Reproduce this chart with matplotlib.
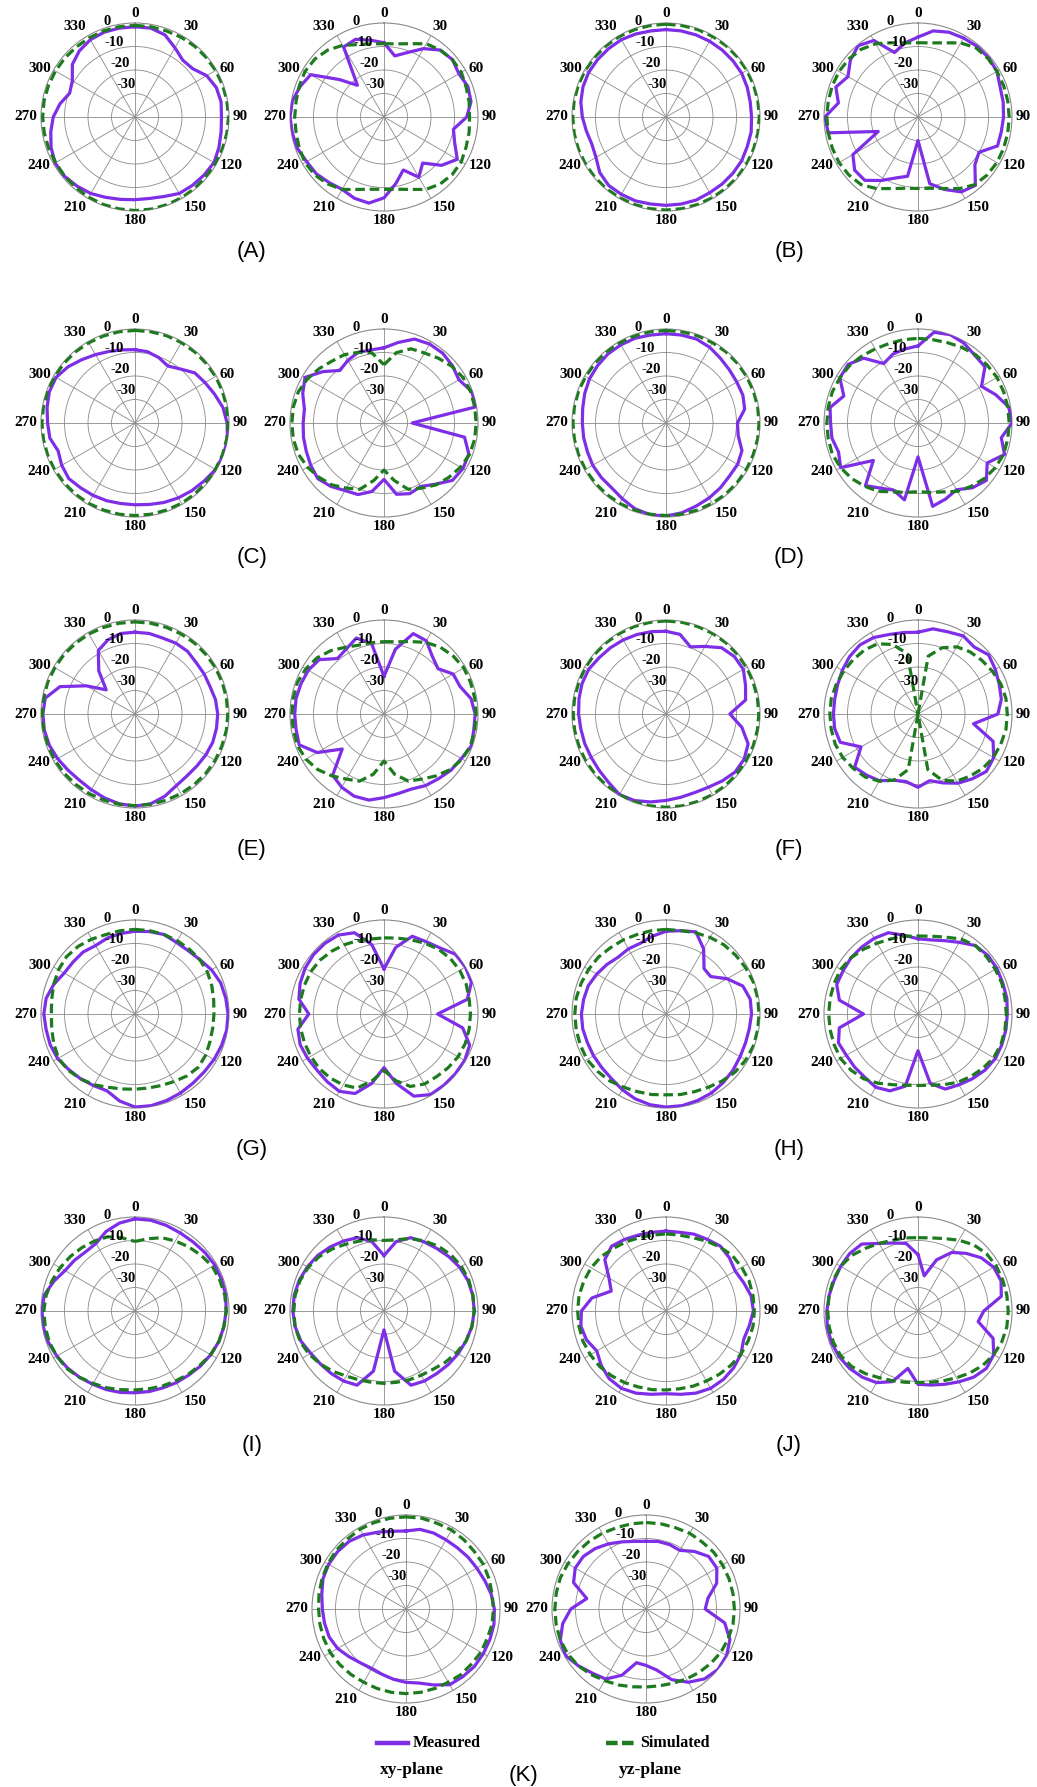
import numpy as np
import matplotlib
matplotlib.use("Agg")
import matplotlib.pyplot as plt
from matplotlib.lines import Line2D

W, H, DPI = 1037, 1787, 100

# ---------------- data (dB, angles 0..350 step 10, clockwise from top) ----------------
ANGLES_DEG = list(range(0, 360, 10))
ANGLE_LABELS = ['0', '30', '60', '90', '120', '150', '180', '210', '240', '270', '300', '330']
RING_TICKS = [-30, -20, -10]
RING_LABELS = ['0', '-10', '-20', '-30']
PANEL_NAMES = ['A', 'B', 'C', 'D', 'E', 'F', 'G', 'H', 'I', 'J', 'K']

A_xy_meas = [-1.6,-1.6,-2.8,-6,-8.4,-8,-4.8,-3.2,-2.8,-3.2,-2.8,-2,-1.2,-1.6,-2,-2.4,-4,-4.8,-4.8,-4.4,-3.6,-2.4,-1.6,-0.8,-0.8,-2,-3.6,-5.2,-7.6,-10.4,-9.2,-5.2,-3.2,-2,-1.6,-1.6]
A_xy_sim = [-1,-1,-1,-0.8,-0.6,-0.5,-0.4,-0.3,-0.3,-0.2,-0.3,-0.4,-0.5,-0.5,-0.4,-0.3,-0.3,-0.2,-0.2,-0.3,-0.4,-0.6,-0.8,-0.9,-1,-0.9,-0.8,-0.7,-0.7,-0.8,-0.9,-1,-1.1,-1.1,-1,-1]
A_yz_meas = [-8.4,-13.6,-10.8,-6.4,-2.8,-2,-3.2,-2,-2.4,-4.8,-10,-8,-4,-8,-14.4,-10.4,-16,-11.2,-5.6,-2.8,-3.2,-4.4,-3.6,-2.4,-2,-0.8,-0.4,0,-0.4,-2,-4,-15.2,-22.4,-5.6,-4.8,-6.8]
A_yz_sim = [-8.8,-8.4,-6.8,-4,-2.8,-2,-2,-2.8,-3.2,-3.6,-3.2,-2.8,-2,-2,-2.8,-4.4,-7.2,-8.8,-9.2,-8.8,-7.2,-4.4,-2.8,-1.6,-1.2,-1.6,-2,-2,-2,-1.6,-1.2,-1.6,-2.8,-4.8,-7.2,-8.4]

B_xy_meas = [-2.8,-2.8,-2.8,-2.8,-2.8,-2.8,-2.8,-3.2,-3.6,-3.6,-3.2,-3.2,-2.8,-2.8,-2.8,-2.8,-2.4,-2.4,-2.4,-2.4,-2,-2,-2,-3.2,-5.6,-6.4,-5.6,-4.4,-3.2,-2.4,-2,-2,-2,-2,-2.4,-2.8]
B_xy_sim = [-0.5,-0.5,-0.4,-0.4,-0.3,-0.3,-0.3,-0.3,-0.3,-0.3,-0.3,-0.3,-0.3,-0.3,-0.4,-0.4,-0.4,-0.4,-0.4,-0.4,-0.4,-0.4,-0.3,-0.3,-0.3,-0.3,-0.3,-0.3,-0.3,-0.3,-0.3,-0.4,-0.4,-0.4,-0.5,-0.5]
B_yz_meas = [-6,-2.8,-1.6,-1.2,-0.8,-0.8,-1.2,-2.8,-3.2,-3.6,-4,-4,-10,-8.4,-2,-3.2,-7.2,-11.2,-30,-14.4,-12.4,-8.8,-4.8,-4.8,-8,-22,-1.2,-0.4,-5.6,-2.8,-5.6,-2.4,-0.4,-2.4,-10.8,-8]
B_yz_sim = [-8.4,-8,-6.4,-3.6,-1.6,-1.2,-1.2,-1.2,-1.2,-1.2,-1.2,-1.2,-1.2,-1.6,-2.4,-4.8,-7.6,-9.2,-9.6,-9.2,-7.6,-4.8,-2.4,-1.6,-1.2,-1.2,-1.2,-1.2,-1.2,-1.2,-1.2,-1.6,-2.4,-4,-6.4,-8]

C_xy_meas = [-8.8,-9.2,-10.4,-12,-10,-6.8,-5.6,-4,-2,-0.8,0,0,-0.4,-1.6,-2.4,-3.2,-4,-4.8,-5.2,-5.2,-4.8,-4.4,-4,-3.2,-4,-5.2,-3.2,-2.8,-2,-1.2,-1.2,-2.8,-4.8,-6.4,-7.6,-8.4]
C_xy_sim = [-0.6,-0.6,-0.5,-0.5,-0.5,-0.5,-0.4,-0.4,-0.4,-0.4,-0.4,-0.4,-0.5,-0.5,-0.5,-0.5,-0.6,-0.6,-0.6,-0.6,-0.6,-0.5,-0.5,-0.5,-0.4,-0.4,-0.4,-0.4,-0.4,-0.4,-0.5,-0.5,-0.5,-0.6,-0.6,-0.6]
C_yz_meas = [-8,-5.2,-2,-1.2,-1.2,-2,-3.2,-0.4,0,-28,-5.2,-1.6,-1.2,-2,-6,-8.8,-8,-9.2,-16,-10.4,-7.6,-6.8,-4.8,-3.2,-4,-4.8,-5.2,-5.6,-5.6,-3.2,-1.2,-6,-10.8,-9.2,-8,-8.4]
C_yz_sim = [-15.2,-9.6,-6.4,-5.6,-4,-2.4,-1.2,-0.8,-0.8,-0.8,-0.8,-1.2,-2.4,-4,-5.6,-8,-10,-15.2,-20,-15.2,-10,-8,-5.6,-4,-2.4,-1.2,-0.8,-0.8,-0.8,-1.2,-2.4,-4,-5.6,-6.4,-8,-9.6]

D_xy_meas = [-2,-2,-2,-2.8,-4,-4.8,-5.2,-5.2,-6,-9.6,-8.8,-5.6,-4.8,-4.8,-4,-3.2,-2.4,-1.2,-0.4,-0.4,-1.2,-2.8,-4,-4,-4,-4.4,-4.4,-4.4,-4,-3.2,-2.4,-2,-1.6,-1.6,-1.6,-2]
D_xy_sim = [-0.6,-0.6,-0.5,-0.5,-0.4,-0.4,-0.4,-0.4,-0.4,-0.4,-0.4,-0.5,-0.5,-0.5,-0.5,-0.6,-0.6,-0.6,-0.6,-0.6,-0.6,-0.5,-0.5,-0.5,-0.4,-0.4,-0.4,-0.4,-0.4,-0.4,-0.5,-0.5,-0.5,-0.6,-0.6,-0.6]
D_yz_meas = [-7.2,-0.8,0,-0.8,-2.4,-2.8,-8.8,-4.8,-0.8,0,-4,-0.8,-6,-2,-4,-7.2,-5.6,-4,-25.6,-6.8,-9.6,-8,-5.2,-15.2,-2,-4,-2.8,-2.8,-2,-6.4,-1.6,-1.2,-4,-10.8,-8.8,-8]
D_yz_sim = [-4,-4,-3.6,-2.8,-2,-1.6,-1.2,-1.2,-1.2,-1.2,-1.2,-1.2,-2,-3.2,-4.8,-6.4,-8.8,-10,-10.8,-10,-8.8,-6.4,-4.8,-3.2,-2,-1.2,-1.2,-1.2,-1.2,-1.2,-1.6,-2,-2.8,-3.6,-4,-4]

E_xy_meas = [-5.2,-5.2,-5.6,-5.2,-5.2,-6,-6,-6,-5.2,-4.8,-4.8,-4.8,-5.2,-5.6,-5.6,-4.8,-2.8,-1.2,-0.8,-1.2,-2,-2.8,-3.2,-2.8,-2,-1.2,-0.8,-0.8,-1.2,-6,-16,-24,-16,-8.8,-6.4,-5.2]
E_xy_sim = [-0.8,-0.8,-0.8,-0.7,-0.6,-0.6,-0.5,-0.5,-0.5,-0.5,-0.5,-0.6,-0.6,-0.7,-0.8,-0.9,-1,-1,-1,-1,-1,-0.9,-0.8,-0.7,-0.6,-0.5,-0.5,-0.5,-0.5,-0.5,-0.6,-0.6,-0.7,-0.7,-0.8,-0.8]
E_yz_meas = [-24,-12,-3.6,-4,-8,-10,-6,-5.6,-2.4,-1.2,-1.2,-0.4,-2,-2.8,-4,-4.8,-6,-5.6,-4.4,-2.8,-2.8,-4,-6,-16.8,-7.2,-1.6,-2,-2,-2,-2.4,-2.8,-4,-9.2,-8,-5.6,-9.6]
E_yz_sim = [-9.2,-8.8,-7.2,-4.8,-2.8,-1.6,-0.8,-0.8,-0.8,-0.8,-0.8,-0.8,-1.6,-3.2,-5.6,-8,-9.6,-14,-20,-14,-9.6,-8,-5.6,-3.2,-1.6,-0.8,-0.8,-0.8,-0.8,-0.8,-1.6,-2.8,-4.8,-7.2,-8.8,-9.2]

F_xy_meas = [-4.8,-5.6,-9.6,-6.8,-3.2,-2,-2,-4,-5.6,-12.8,-7.2,-2.8,-1.6,-1.6,-2.8,-4,-4.4,-4,-3.2,-2,-0.8,-0.4,-2,-2.8,-3.2,-3.2,-3.2,-2.8,-2.4,-2,-2,-2.8,-3.2,-3.6,-4,-4.4]
F_xy_sim = [-0.4,-0.4,-0.4,-0.4,-0.4,-0.4,-0.4,-0.5,-0.5,-0.5,-0.5,-0.5,-0.5,-0.5,-0.4,-0.4,-0.4,-0.3,-0.3,-0.3,-0.3,-0.3,-0.4,-0.4,-0.4,-0.5,-0.5,-0.5,-0.5,-0.5,-0.4,-0.4,-0.4,-0.4,-0.4,-0.4]
F_yz_meas = [-5.2,-3.2,-2.8,-1.6,-2.8,-0.8,-2,-3.2,-4,-6,-16,-6,-2.8,-2,-4,-6,-8.8,-11.2,-8.8,-10.8,-10,-7.2,-6,-4.8,-12,-4.8,-4,-4,-4,-3.6,-2.8,-2,-1.6,-2.4,-4,-4.8]
F_yz_sim = [-40,-15,-10,-7,-5.5,-4.5,-3.5,-2.5,-2,-2,-2,-2.5,-3,-4,-5.5,-7,-10,-16,-40,-16,-10,-7,-5,-4,-3,-2.5,-2.5,-2.5,-2.5,-3,-3.5,-4,-4.5,-5.5,-8.5,-14]

G_xy_meas = [-4.8,-4.4,-4,-4.8,-4.8,-4,-2.4,-1.2,-0.8,-0.4,-0.4,-0.8,-1.2,-1.6,-1.6,-1.2,-0.8,-0.4,-0.4,-2.4,-5.2,-4.8,-4,-3.2,-2,-1.6,-1.6,-1.2,-1.6,-3.2,-5.2,-5.6,-5.6,-6.4,-5.6,-5.2]
G_xy_sim = [-4,-4,-4,-4,-4,-4,-4.4,-5.2,-6,-6.4,-6.4,-6,-5.2,-4.8,-5.6,-6.8,-7.6,-8,-8,-7.6,-6.8,-5.2,-4,-2.8,-2.4,-3.2,-4,-4.4,-4,-3.2,-2.4,-2,-2.4,-3.2,-4,-4]
G_yz_meas = [-20.8,-11.2,-4.8,-4.4,-3.2,-0.4,0,-0.4,-4,-17.2,-6,-1.2,-0.4,-0.4,-0.4,-0.4,-2.8,-10,-17.2,-10,-4,-2,-2.4,-2.8,-2.4,-2,-2.8,-8,-3.2,-2,-1.2,-0.8,-0.8,-1.2,-3.2,-10]
G_yz_sim = [-7.6,-7.2,-6.4,-5.2,-4,-3.2,-2.8,-2.8,-3.2,-3.2,-3.2,-3.2,-3.6,-4.4,-5.2,-5.6,-7.2,-11.2,-16,-11.2,-6.4,-5.2,-4.4,-4,-4,-4,-4,-4,-4,-4,-4,-4.4,-5.2,-6,-6.8,-7.6]

H_xy_meas = [-4.8,-4,-2.8,-8,-14.8,-15.2,-10,-5.2,-3.6,-3.6,-4,-4,-3.6,-2.8,-2,-1.2,-0.8,-0.4,-0.4,-0.8,-1.6,-2.8,-4,-4.4,-4.4,-4.4,-4,-4,-4.4,-4.8,-6,-7.2,-8.4,-8,-8,-6.4]
H_xy_sim = [-4,-4,-3.2,-2.4,-1.6,-1.2,-0.8,-0.4,-0.4,-0.4,-0.4,-0.4,-0.8,-1.6,-2.8,-4,-4.8,-5.2,-5.6,-5.2,-4.8,-4,-2.8,-2,-1.2,-1.2,-1.2,-1.2,-1.2,-1.6,-2,-2.4,-3.2,-3.6,-4,-4]
H_yz_meas = [-8,-8,-6.8,-4.8,-2,-1.2,-1.2,-1.6,-1.6,-2,-2,-2,-2,-2.8,-4,-5.2,-6,-10,-24.4,-8.8,-5.2,-4,-4.8,-4.8,-4.8,-4,-6,-16.8,-6,-3.2,-3.2,-2.8,-2.8,-2.8,-3.2,-6]
H_yz_sim = [-6.8,-6.4,-5.2,-3.2,-2,-2,-2,-2,-2.4,-2.4,-2.4,-2.4,-2.8,-4,-5.2,-6.4,-8,-9.2,-9.6,-9.2,-8,-6,-4,-2.8,-2,-2,-2,-2,-2,-2,-2,-2.8,-4,-5.2,-6,-6.4]

I_xy_meas = [-0.8,-0.8,-1.2,-1.6,-1.6,-1.2,-0.8,-0.8,-0.8,-1.2,-1.6,-2,-2.8,-3.6,-4.4,-4.8,-5.2,-5.2,-5.2,-4.8,-4.4,-4,-3.2,-2.4,-1.6,-0.8,-0.4,-0.4,-0.8,-3.2,-5.6,-6.4,-7.2,-6.8,-4,-2]
I_xy_sim = [-10.4,-8.8,-6.8,-5.6,-4.4,-3.2,-2,-1.6,-1.2,-1.2,-1.6,-2,-2.8,-4,-4.8,-5.6,-6,-6.4,-6.4,-6,-5.2,-4.4,-3.2,-2,-1.6,-1.2,-1.2,-1.2,-1.6,-2.4,-3.2,-4,-4.8,-5.6,-6.4,-8.4]
I_yz_meas = [-16.4,-10,-6.8,-6,-5.2,-4,-2.8,-2,-1.6,-1.6,-2,-2.8,-3.6,-4.4,-5.2,-5.6,-6.4,-14,-32,-14,-6.4,-5.6,-5.2,-4.8,-4,-2.4,-1.6,-1.2,-1.2,-1.6,-2.4,-3.2,-4.4,-5.6,-6.8,-10]
I_yz_sim = [-10,-9.2,-7.2,-5.6,-4,-2.8,-2,-1.6,-1.6,-1.6,-2,-2.8,-4.4,-6,-7.6,-8.4,-8.8,-9.2,-9.2,-9.2,-8.8,-8,-6.4,-4.8,-3.2,-2,-1.6,-1.6,-1.6,-2,-2.8,-4,-5.6,-7.2,-8.4,-9.2]

J_xy_meas = [-6,-6,-5.2,-4.8,-4,-4.8,-6,-4.8,-3.2,-2.8,-4,-4.8,-3.2,-2.4,-2,-2,-2.8,-4,-4.8,-4,-2.8,-2,-2.4,-4,-6,-4,-3.2,-4,-8,-15.2,-12,-6,-4,-4.8,-5.6,-6]
J_xy_sim = [-7.2,-7.2,-6.8,-5.6,-4.4,-3.2,-2.8,-2.4,-2.4,-2.4,-2.4,-2.8,-3.2,-4,-4.8,-5.6,-6,-6.4,-6.4,-6,-5.6,-4.8,-4,-3.2,-2.8,-2.4,-2.4,-2.4,-2.4,-2.8,-3.2,-4,-5.2,-6,-6.8,-7.2]
J_yz_meas = [-16,-24.8,-16.8,-11.2,-8,-4.8,-2.8,-2.4,-4,-12,-14,-6,-2.8,-2,-3.2,-5.2,-6.8,-8,-8.8,-15.2,-8,-4.8,-3.2,-2,-1.2,-0.8,-0.8,-1.2,-1.6,-2,-2,-2,-2.8,-6.8,-9.2,-10.8]
J_yz_sim = [-8.8,-8.4,-7.2,-5.2,-3.2,-2,-1.6,-1.6,-1.6,-1.6,-1.6,-2,-2.8,-4,-5.6,-7.2,-8.4,-9.2,-9.6,-9.2,-8.4,-7.2,-5.2,-3.2,-2,-1.6,-1.6,-1.6,-1.6,-1.6,-2,-3.2,-5.2,-6.8,-8,-8.4]

K_xy_meas = [-6.8,-5.6,-5.6,-6,-6,-5.6,-5.2,-4.4,-3.2,-2.4,-2,-2,-2,-2,-2.4,-2.8,-5.6,-8,-8.8,-9.6,-10.4,-10.8,-10,-8.4,-6.4,-5.2,-4.8,-4.4,-3.6,-2.4,-2,-2,-2.4,-3.6,-5.2,-6.4]
K_xy_sim = [-0.8,-0.8,-1.2,-1.2,-1.6,-2,-2,-2.4,-2.8,-2.8,-2.8,-3.2,-3.2,-3.6,-3.6,-4,-4,-4,-4,-4,-4,-4,-3.6,-3.2,-2.8,-2.8,-2.8,-2.8,-2.4,-2,-1.6,-1.2,-1.2,-0.8,-0.8,-0.8]
K_yz_meas = [-11.2,-10.8,-10.8,-11.2,-8,-5.2,-5.2,-8,-13.2,-14.8,-6,-2,-0.4,0,-1.2,-4,-8,-13.6,-16,-16.8,-10,-5.6,-4.4,-2.4,-0.4,-1.2,-4,-8,-14.4,-7.2,-5.2,-5.2,-6.4,-8,-9.6,-10.8]
K_yz_sim = [-3.2,-3.2,-3.2,-2.8,-2.8,-2.4,-2.4,-2.4,-2.4,-2.4,-2.4,-2.8,-3.2,-4,-4.8,-5.6,-6.4,-6.8,-6.8,-6.4,-5.6,-4.8,-3.6,-2.4,-1.6,-1.2,-1.2,-1.2,-1.2,-1.2,-1.6,-2,-2.4,-2.8,-3.2,-3.2]

PANELS = {
    'A': (A_xy_meas, A_xy_sim, A_yz_meas, A_yz_sim),
    'B': (B_xy_meas, B_xy_sim, B_yz_meas, B_yz_sim),
    'C': (C_xy_meas, C_xy_sim, C_yz_meas, C_yz_sim),
    'D': (D_xy_meas, D_xy_sim, D_yz_meas, D_yz_sim),
    'E': (E_xy_meas, E_xy_sim, E_yz_meas, E_yz_sim),
    'F': (F_xy_meas, F_xy_sim, F_yz_meas, F_yz_sim),
    'G': (G_xy_meas, G_xy_sim, G_yz_meas, G_yz_sim),
    'H': (H_xy_meas, H_xy_sim, H_yz_meas, H_yz_sim),
    'I': (I_xy_meas, I_xy_sim, I_yz_meas, I_yz_sim),
    'J': (J_xy_meas, J_xy_sim, J_yz_meas, J_yz_sim),
    'K': (K_xy_meas, K_xy_sim, K_yz_meas, K_yz_sim),
}
for k, v in PANELS.items():
    for s in v:
        assert len(s) == len(ANGLES_DEG), (k, len(s))

# ---------------- style ----------------
PURPLE = '#7d2ee6'
GREEN = '#1e7a1e'
GRID = '#8a8a8a'
SERIF = 'Liberation Serif'
SANS = 'Liberation Sans'
R_PX = 94

fig = plt.figure(figsize=(W / DPI, H / DPI), dpi=DPI)
fig.patch.set_facecolor('white')


def closed(vals):
    return list(vals) + [vals[0]]


def polar_panel(cx, cy, meas, sim):
    ax = fig.add_axes([(cx - R_PX) / W, 1 - (cy + R_PX) / H, 2 * R_PX / W, 2 * R_PX / H],
                      projection='polar')
    ax.set_theta_zero_location('N')
    ax.set_theta_direction(-1)
    th = np.deg2rad(ANGLES_DEG + [360])
    ax.plot(th, closed(meas), color=PURPLE, lw=2.3, solid_joinstyle='round', zorder=3)
    ax.plot(th, closed(sim), color=GREEN, lw=2.3, ls=(0, (3, 1.5)), zorder=4)
    ax.set_ylim(-40, 0)
    ax.set_yticks(RING_TICKS)
    ax.set_yticklabels([])
    ax.set_xticks(np.deg2rad(np.arange(0, 360, 30)))
    ax.set_xticklabels([])
    ax.set_xticks(np.deg2rad(np.arange(0, 360, 5)), minor=True)
    ax.tick_params(axis='x', which='minor', direction='in', length=4, width=0.6, colors=GRID)
    ax.tick_params(axis='x', which='major', direction='in', length=5, width=0.6, colors=GRID)
    ax.grid(True, color=GRID, lw=0.6)
    ax.spines['polar'].set_color(GRID)
    ax.spines['polar'].set_linewidth(0.8)
    ax.set_facecolor('none')
    # angle labels
    for a, lab in zip(range(0, 360, 30), ANGLE_LABELS):
        t = np.deg2rad(a)
        s, c = np.sin(t), np.cos(t)
        k = 1.035
        ha = 'left' if s > 0.3 else ('right' if s < -0.3 else 'center')
        va = 'bottom' if c > 0.6 else ('top' if c < -0.6 else 'center')
        ax.text(0.5 + 0.5 * k * s, 0.5 + 0.5 * k * c, lab, transform=ax.transAxes,
                ha=ha, va=va, fontsize=11, fontweight='bold', family=SERIF)
    # radial labels along 344 deg
    for lab, rr in zip(RING_LABELS, [2.4, -7.2, -16.4, -25.6]):
        ax.text(np.deg2rad(344), rr, lab, ha='center', va='center',
                fontsize=10.5, fontweight='bold', family=SERIF, zorder=5)
    return ax


COL_X = [135, 384, 666, 918]
ROW_Y = [117, 423, 714, 1014, 1311]
LABEL_DY = 135
LABEL_X = [252, 789]

for i, name in enumerate(PANEL_NAMES[:10]):
    row, pair = divmod(i, 2)
    xm, xs, ym, ys = PANELS[name]
    polar_panel(COL_X[2 * pair], ROW_Y[row], xm, xs)
    polar_panel(COL_X[2 * pair + 1], ROW_Y[row], ym, ys)
    fig.text(LABEL_X[pair] / W, 1 - (ROW_Y[row] + LABEL_DY) / H, '(%s)' % name,
             ha='center', va='center', fontsize=16, family=SANS)

# last panel (K)
xm, xs, ym, ys = PANELS['K']
polar_panel(406, 1609, xm, xs)
polar_panel(646, 1609, ym, ys)
fig.text(523 / W, 1 - 1775 / H, '(K)', ha='center', va='center', fontsize=16, family=SANS)

# legend
yl = 1 - 1743 / H
fig.add_artist(Line2D([377 / W, 408 / W], [yl, yl], color=PURPLE, lw=3.2, transform=fig.transFigure))
fig.add_artist(Line2D([606 / W, 636 / W], [yl, yl], color=GREEN, lw=3.2, ls=(0, (2.6, 1.0)),
                      transform=fig.transFigure))
fig.text(413 / W, yl, 'Measured', ha='left', va='center', fontsize=11.5, fontweight='bold', family=SERIF)
fig.text(640 / W, yl, 'Simulated', ha='left', va='center', fontsize=11.5, fontweight='bold', family=SERIF)
fig.text(412 / W, 1 - 1770 / H, 'xy-plane', ha='center', va='center', fontsize=12.5, fontweight='bold', family=SERIF)
fig.text(650 / W, 1 - 1770 / H, 'yz-plane', ha='center', va='center', fontsize=12.5, fontweight='bold', family=SERIF)

fig.savefig('out.png', dpi=DPI, facecolor='white')
